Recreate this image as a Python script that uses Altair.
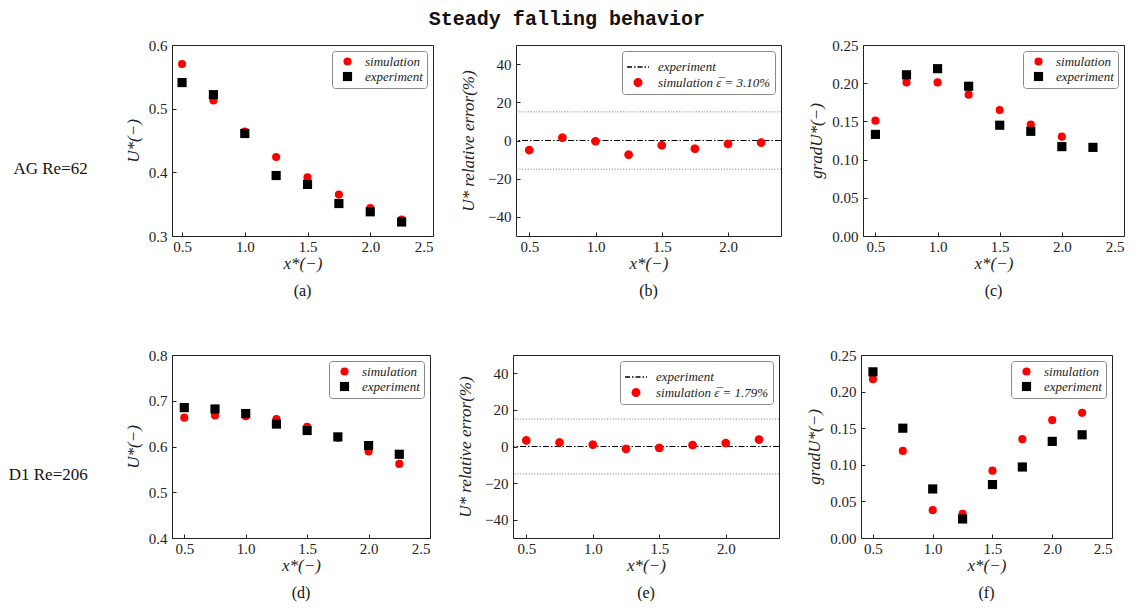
import altair as alt
import pandas as pd

# ---------------- data ----------------
x_vals = [0.5, 0.75, 1.0, 1.25, 1.5, 1.75, 2.0, 2.25]
x_grad_ag_sim = [0.5, 0.75, 1.0, 1.25, 1.5, 1.75, 2.0]

ag_sim_u = [0.570, 0.513, 0.464, 0.424, 0.392, 0.365, 0.344, 0.326]
ag_exp_u = [0.541, 0.522, 0.461, 0.395, 0.381, 0.351, 0.338, 0.322]
ag_err = [-5.0, 1.5, -0.4, -7.4, -2.5, -4.3, -1.8, -1.1]
ag_sim_grad = [0.151, 0.201, 0.201, 0.185, 0.165, 0.146, 0.130]
ag_exp_grad = [0.133, 0.211, 0.219, 0.196, 0.145, 0.137, 0.117, 0.116]

d1_sim_u = [0.663, 0.668, 0.666, 0.660, 0.643, 0.619, 0.589, 0.562]
d1_exp_u = [0.685, 0.682, 0.672, 0.649, 0.635, 0.621, 0.602, 0.583]
d1_err = [3.3, 2.2, 1.0, -1.3, -0.8, 0.8, 1.9, 3.8]
d1_sim_grad = [0.217, 0.119, 0.038, 0.033, 0.092, 0.135, 0.161, 0.171]
d1_exp_grad = [0.227, 0.150, 0.067, 0.026, 0.073, 0.097, 0.132, 0.141]

band_lines = [15, -15]
zero_line = [0]

ag_eps_label = "simulation \u03b5\u0305 = 3.10%"
d1_eps_label = "simulation \u03b5\u0305 = 1.79%"

row_labels = ["AG Re=62", "D1 Re=206"]
panel_labels = ["(a)", "(b)", "(c)", "(d)", "(e)", "(f)"]

x_ticks_full = [0.5, 1.0, 1.5, 2.0, 2.5]
x_ticks_err = [0.5, 1.0, 1.5, 2.0]
err_ticks = [-40, -20, 0, 20, 40]
grad_ticks = [0.0, 0.05, 0.10, 0.15, 0.20, 0.25]

# ---------------- style ----------------
SERIF = "Liberation Serif"
INWARD = {"expr": "-4"}
COMMON = dict(grid=False, domain=False, ticks=True, tickSize=INWARD, tickColor="#222",
              labelFont=SERIF, labelFontSize=15, labelColor="#222",
              titleFont=SERIF, titleFontSize=17, titleFontStyle="italic",
              titleFontWeight="normal", titleColor="#222")
X_STYLE = dict(COMMON, labelPadding=7, titlePadding=1)
Y_STYLE = dict(COMMON, labelPadding=9, titlePadding=6)
Y_STYLE_ERR = dict(COMMON, labelPadding=9, titlePadding=10)


def legend_def(sym_offset, label_offset):
    return alt.Legend(
        title=None, orient="top-right", offset=6,
        fillColor="white", strokeColor="#888", cornerRadius=3,
        padding=4, rowPadding=1, labelFont=SERIF, labelFontStyle="italic",
        labelFontSize=13, labelColor="#222", labelOffset=label_offset,
        symbolOffset=sym_offset,
    )


def bottom_title(label):
    return alt.TitleParams(label, orient="bottom", font=SERIF, fontSize=16,
                           fontWeight="normal", offset=12, color="#111")


def compare_panel(xs_sim, sim, xs_exp, exp, ydom, yticks, yfmt, ytitle, xdom, label, w, h):
    rows = [{"x": x, "v": v, "series": "simulation"} for x, v in zip(xs_sim, sim)]
    rows += [{"x": x, "v": v, "series": "experiment"} for x, v in zip(xs_exp, exp)]
    df = pd.DataFrame(rows)
    dom = ["simulation", "experiment"]
    lg = legend_def(5, 11)
    return alt.Chart(df).mark_point(filled=True, opacity=1).encode(
        x=alt.X("x:Q", scale=alt.Scale(domain=xdom, nice=False, zero=False),
                axis=alt.Axis(values=x_ticks_full, format=".1f", title="x*(\u2212)", **X_STYLE)),
        y=alt.Y("v:Q", scale=alt.Scale(domain=ydom, nice=False, zero=False),
                axis=alt.Axis(values=yticks, format=yfmt, title=ytitle, **Y_STYLE)),
        color=alt.Color("series:N", scale=alt.Scale(domain=dom, range=["#ff0000", "#000000"]), legend=lg),
        shape=alt.Shape("series:N", scale=alt.Scale(domain=dom, range=["circle", "square"]), legend=lg),
        size=alt.Size("series:N", scale=alt.Scale(domain=dom, range=[66, 84]), legend=lg),
    ).properties(width=w, height=h, title=bottom_title(label))


def error_panel(err, eps_label, label, w, h):
    df = pd.DataFrame({"x": x_vals, "v": err, "series": [eps_label] * len(err)})
    dom = ["experiment", eps_label]
    xdom = [0.4, 2.4]
    ydom = [-50, 50]
    X = alt.X("x:Q", scale=alt.Scale(domain=xdom, nice=False, zero=False),
              axis=alt.Axis(values=x_ticks_err, format=".1f", title="x*(\u2212)", **X_STYLE))
    Y = alt.Y("v:Q", scale=alt.Scale(domain=ydom, nice=False, zero=False),
              axis=alt.Axis(values=err_ticks, format="d", title="U* relative error(%)", **Y_STYLE_ERR))
    bands = alt.Chart(pd.DataFrame({"v": band_lines})).mark_rule(
        color="#888", strokeDash=[1.2, 1.6], strokeWidth=1).encode(y=Y)
    zero = alt.Chart(pd.DataFrame({"v": zero_line})).mark_rule(
        color="black", strokeDash=[6, 2, 1.5, 2], strokeWidth=1).encode(y=Y)
    lg = legend_def(0, 8)
    pts = alt.Chart(df).mark_point(filled=False, opacity=1, strokeWidth=1.2).encode(
        x=X, y=Y,
        color=alt.Color("series:N", scale=alt.Scale(domain=dom, range=["#000000", "#ff0000"]), legend=lg),
        fill=alt.Fill("series:N", scale=alt.Scale(domain=dom, range=["#000000", "#ff0000"]), legend=lg),
        shape=alt.Shape("series:N", scale=alt.Scale(domain=dom, range=["stroke", "circle"]), legend=lg),
        size=alt.Size("series:N", scale=alt.Scale(domain=dom, range=[480, 56]), legend=lg),
        strokeDash=alt.StrokeDash("series:N", scale=alt.Scale(domain=dom, range=[[5, 2, 1.5, 2], [1, 0]]), legend=lg),
    )
    return alt.layer(bands, zero, pts).properties(width=w, height=h, title=bottom_title(label))


H1, H2 = 191, 183

a = compare_panel(x_vals, ag_sim_u, x_vals, ag_exp_u, [0.3, 0.6], [0.3, 0.4, 0.5, 0.6], ".1f",
                  "U*(\u2212)", [0.42, 2.5], panel_labels[0], 261, H1)
b = error_panel(ag_err, ag_eps_label, panel_labels[1], 265, H1)
c = compare_panel(x_grad_ag_sim, ag_sim_grad, x_vals, ag_exp_grad, [0.0, 0.25],
                  grad_ticks, ".2f", "gradU*(\u2212)", [0.4, 2.5], panel_labels[2], 261, H1)

d = compare_panel(x_vals, d1_sim_u, x_vals, d1_exp_u, [0.4, 0.8], [0.4, 0.5, 0.6, 0.7, 0.8], ".1f",
                  "U*(\u2212)", [0.4, 2.5], panel_labels[3], 258, H2)
e = error_panel(d1_err, d1_eps_label, panel_labels[4], 266, H2)
f = compare_panel(x_vals, d1_sim_grad, x_vals, d1_exp_grad, [0.0, 0.25],
                  grad_ticks, ".2f", "gradU*(\u2212)", [0.4, 2.5], panel_labels[5], 251, H2)

IND = dict(x="independent", y="independent", color="independent", shape="independent",
           size="independent", fill="independent", strokeDash="independent")
IND_LEG = dict(color="independent", shape="independent", size="independent",
               fill="independent", strokeDash="independent")


def row(p1, p2, p3, label):
    return alt.hconcat(p1, p2, p3, spacing=25, title=alt.TitleParams(
        label, orient="left", angle=0, align="left", baseline="middle", anchor="middle",
        font=SERIF, fontSize=17, fontWeight="normal", offset=36, color="#111",
    )).resolve_scale(**IND).resolve_legend(**IND_LEG)


chart = alt.vconcat(
    row(a, b, c, row_labels[0]),
    row(d, e, f, row_labels[1]),
    spacing=47,
    title=alt.TitleParams("Steady falling behavior", font="Liberation Mono", fontWeight="bold",
                          fontSize=20, anchor="middle", offset=9, color="#111"),
).resolve_scale(**IND).properties(padding=0).configure_view(stroke="#222", strokeWidth=1)

chart.save("out.html", embed_options={"renderer": "svg", "actions": False})
